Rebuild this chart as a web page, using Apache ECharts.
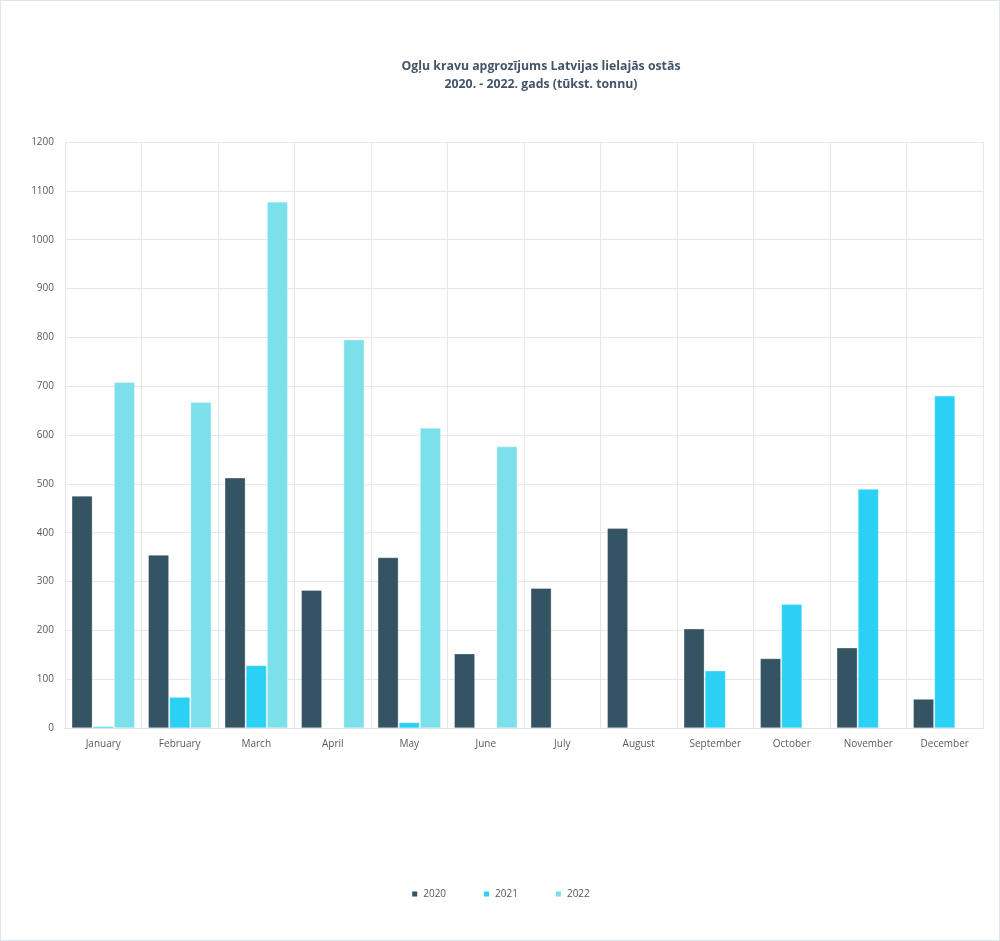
<!DOCTYPE html>
<html>
<head>
<meta charset="utf-8">
<script src="https://cdn.jsdelivr.net/npm/echarts@6/dist/echarts.min.js"></script>
<style>
  html, body { margin: 0; padding: 0; background: #fff; }
  #chart { width: 1000px; height: 941px; box-sizing: border-box; border: 1px solid #dfe5ec; }
</style>
</head>
<body>
<div id="chart"></div>
<script>
// mēneši
var months = ['January', 'February', 'March', 'April', 'May', 'June',
              'July', 'August', 'September', 'October', 'November', 'December'];

// tūkst. tonnu
var y2020 = [475, 354, 512, 282, 349, 152, 286, 409, 203, 142, 164, 59];
var y2021 = [3, 63, 128, '-', 11, '-', '-', '-', 117, 253, 489, 680];
var y2022 = [708, 667, 1077, 795, 614, 576, '-', '-', '-', '-', '-', '-'];

var yearNames = ['2020', '2021', '2022'];
var colors = ['#345363', '#2bd1f4', '#7be0ea'];

var font = 'Open Sans';

var option = {
    title: {
        text: 'Ogļu kravu apgrozījums Latvijas lielajās ostās\n2020. - 2022. gads (tūkst. tonnu)',
        left: 535,
        top: 51,
        textAlign: 'center',
        textStyle: {
            color: '#44546a',
            fontSize: 12.3,
            fontWeight: 'bold',
            fontFamily: font,
            lineHeight: 18
        }
    },
    legend: {
        bottom: 36,
        left: 'center',
        itemWidth: 7,
        itemHeight: 7,
        itemGap: 36,
        icon: 'rect',
        data: yearNames,
        textStyle: { color: '#595959', fontSize: 10, fontFamily: font }
    },
    grid: {
        left: 64,
        right: 16,
        top: 141,
        bottom: 212
    },
    xAxis: {
        type: 'category',
        data: months,
        axisTick: { show: false },
        axisLine: { lineStyle: { color: '#dde3ea' } },
        axisLabel: { color: '#595959', fontSize: 10, fontFamily: font, margin: 11 },
        splitLine: { show: true, lineStyle: { color: '#e4e8ee' } }
    },
    yAxis: {
        type: 'value',
        min: 0,
        max: 1200,
        interval: 100,
        axisLabel: {
            color: '#595959', fontSize: 10, fontFamily: font, margin: 11,
            formatter: function (v) { return String(v); }
        },
        splitLine: { lineStyle: { color: '#e4e8ee' } }
    },
    series: [
        { name: yearNames[0], type: 'bar', data: y2020 },
        { name: yearNames[1], type: 'bar', data: y2021 },
        { name: yearNames[2], type: 'bar', data: y2022 }
    ].map(function (s, i) {
        s.itemStyle = { color: colors[i], borderColor: '#ffffff', borderWidth: 0.3 };
        s.barGap = '4%';
        s.barCategoryGap = '18%';
        return s;
    })
};

var myChart = echarts.init(document.getElementById('chart'));
myChart.setOption(option);
</script>
</body>
</html>
